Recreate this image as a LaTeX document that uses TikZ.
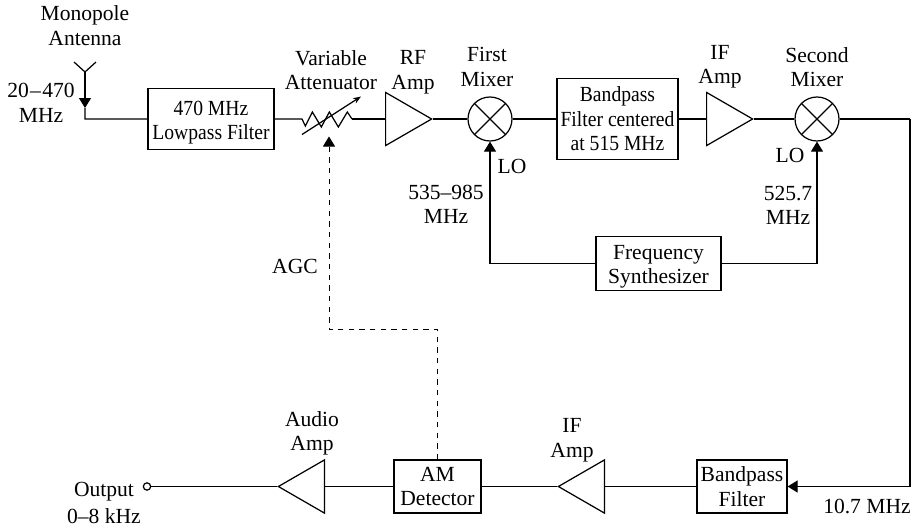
\documentclass[tikz,border=0pt]{standalone}
\usepackage{fontspec}
\setmainfont{Liberation Serif}
\newfontfamily\narrowfont[FakeStretch=0.91]{Liberation Serif}
\usetikzlibrary{positioning,arrows.meta,shapes.geometric}

\begin{document}
\begin{tikzpicture}[line width=1.05pt,node distance =2cm and 3cm ,on grid ,
tip/.style ={-{Triangle[length=.3cm,width=.36cm]}},
block/.style ={rectangle ,draw ,inner sep=0pt ,anchor=center ,align=center ,font=\fontsize{18.4}{20.9}\selectfont},
nblock/.style ={block ,font=\narrowfont\fontsize{18.4}{20.9}\selectfont},
txt/.style ={inner sep=0pt ,anchor=center ,align=center ,font=\fontsize{18.4}{20.9}\selectfont},
amp/.style ={isosceles triangle ,draw ,inner sep=0pt ,isosceles triangle apex angle=60 ,minimum height=1.38cm ,anchor=lower side},
ampl/.style ={amp ,shape border rotate=180},
mixer/.style ={circle ,draw ,inner sep=0pt ,anchor=center ,minimum width=1.32cm ,
  path picture={\draw (path picture bounding box.north west) -- (path picture bounding box.south east)
    (path picture bounding box.north east) -- (path picture bounding box.south west);}}]
\useasboundingbox (0,0) rectangle (27.39,-15.87);
% top row
\node (LPF) at (6.33,-3.57) [nblock,minimum width=3.78cm,minimum height=1.83cm] {\rule{0pt}{18pt}470 MHz\\Lowpass Filter};
\coordinate (AntV) at (2.55,-2.16);
\coordinate[above left = .3cm and .33cm of AntV] (AntL);
\coordinate[above right = .3cm and .33cm of AntV] (AntR);
\coordinate[below = 1.08cm of AntV] (AntTip);
\coordinate[below = 1.41cm of AntV] (AntD);
\coordinate[right = 2.73cm of LPF] (ResL);
\coordinate[right = 1.5cm of ResL] (ResR);
\coordinate[below = .465cm of ResL] (VarL);
\coordinate[above right = .675cm and 1.77cm of ResL] (VarR);
\coordinate[below right = .525cm and .81cm of ResL] (AGCTip);
\coordinate[right = .99cm of ResR] (RFIn);
\node (RFAmp) at (RFIn) [amp] {};
\node (M1) [right = 3.15cm of RFIn,mixer] {};
\node (BPF) [right = 3.825cm of M1,nblock,minimum width=3.63cm,minimum height=2.43cm] {Bandpass\\Filter centered\\at 515 MHz};
\coordinate[right = 2.655cm of BPF] (IFIn);
\node (IFAmp) at (IFIn) [amp] {};
\node (M2) [right = 3.33cm of IFIn,mixer] {};
\coordinate[right = 2.79cm of M2] (Corner);
\node (Synth) [below right = 4.335cm and 1.23cm of BPF,block,minimum width=3.75cm,minimum height=1.62cm] {\rule{0pt}{18pt}Frequency\\Synthesizer};
% bottom row
\node (BPF2) [below left = 11.025cm and 2.25cm of M2,block,minimum width=2.7cm,minimum height=1.59cm] {Bandpass\\Filter};
\coordinate[left = 4.11cm of BPF2] (IF2In);
\node (IFAmp2) at (IF2In) [ampl] {};
\node (Det) [left = 5.025cm of IF2In,block,minimum width=2.61cm,minimum height=1.59cm] {AM\\Detector};
\coordinate[left = 3.375cm of Det] (AudioIn);
\node (Audio) at (AudioIn) [ampl] {};
\node (Out) [left = 5.34cm of AudioIn,circle,draw,inner sep=0pt,anchor=center,minimum width=.22cm] {};
\coordinate[above = 4.71cm of Det] (DetUp);
% labels
\node (tMono) [above = 1.395cm of AntV,txt] {Monopole\\Antenna};
\node (tBand) [below left = .93cm and 1.32cm of AntV,txt] {20\kern1.2pt–\kern1.2pt 470\\MHz};
\node (tAtt) [above right = 1.47cm and .87cm of ResL,txt] {Variable\\Attenuator};
\node (tRF) [above right = 1.41cm and .84cm of RFIn,txt] {RF\\Amp};
\node (tM1) [above left = 1.56cm and .09cm of M1,txt] {First\\Mixer};
\node (tIF) [above right = 1.575cm and .42cm of IFIn,txt] {IF\\Amp};
\node (tM2) [above = 1.56cm of M2,txt] {Second\\Mixer};
\node (tLO1) [below right = 1.41cm and .66cm of M1,txt] {LO};
\node (tLO2) [below left = 1.08cm and .81cm of M2,txt] {LO};
\node (tF1) [below left = 2.565cm and 1.32cm of M1,txt] {535–985\\MHz};
\node (tF2) [below left = 2.595cm and .87cm of M2,txt] {525.7\\MHz};
\node (tAGC) [below left = 3.9cm and 1.02cm of AGCTip,txt] {AGC};
\node (tIF2) [above left = 1.395cm and .99cm of IF2In,txt] {IF\\Amp};
\node (tAudio) [above left = 1.59cm and .39cm of AudioIn,txt] {Audio\\Amp};
\node (tOut) [below left = .15cm and 1.29cm of Out,txt] {Output};
\node (tOut2) [below left = .9cm and 1.29cm of Out,txt] {0–8 kHz};
\node (t107) [below right = .6cm and 3.75cm of BPF2,txt] {10.7 MHz};
% connectors
\draw (AntL) -- (AntV) -- (AntR);
\draw[tip] (AntV) -- (AntTip);
\draw (AntTip) -- (AntD) -- (LPF);
\draw (LPF) -- (ResL) -- ++(.1,-.21) -- ++(.21,.42) -- ++(.27,-.45) -- ++(.24,.45) -- ++(.27,-.45) -- ++(.27,.45) -- (ResR);
\draw (ResR) -- (RFIn);
\draw[-{Stealth[length=.24cm,width=.18cm]}] (VarL) -- (VarR);
\draw (RFAmp.apex) -- (M1);
\draw (M1) -- (BPF);
\draw (BPF) -- (IFIn);
\draw (IFAmp.apex) -- (M2);
\draw (M2) -- (Corner);
\draw[tip] (Corner) |- (BPF2);
\draw[tip] (Synth) -| (M1);
\draw[tip] (Synth) -| (M2);
\draw (BPF2) -- (IF2In);
\draw (IFAmp2.apex) -- (Det);
\draw (Det) -- (AudioIn);
\draw (Audio.apex) -- (Out);
\draw[tip,line width=.75pt,dash pattern=on .16cm off .16cm] (Det) -- (DetUp) -| (AGCTip);
\end{tikzpicture}
\end{document}
